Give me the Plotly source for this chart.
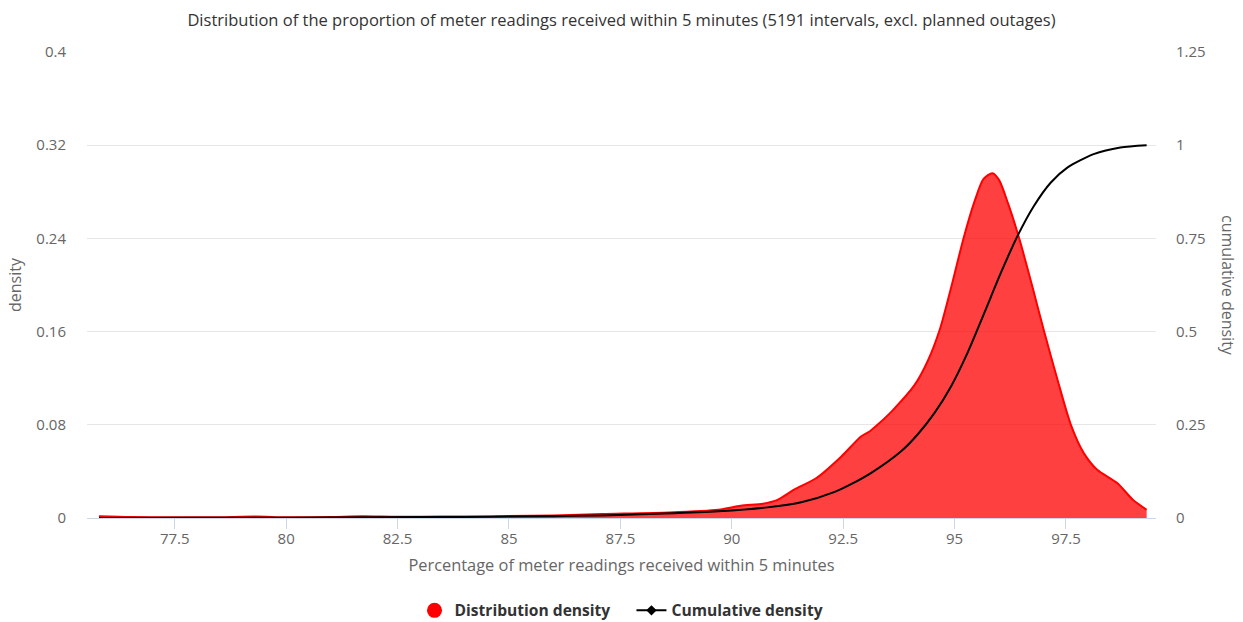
import plotly.graph_objects as go

# Distribution density (percentage -> density)
dens_x = [75.8, 76.5, 77.5, 78.5, 79.3, 80.0, 81.0, 81.7, 82.5, 83.5, 84.5, 85.0, 86.0,
          87.1, 88.6, 89.7, 90.2, 90.7, 91.0, 91.4, 91.9, 92.46, 92.9, 93.1, 93.27, 93.6,
          94.1, 94.4, 94.67, 94.95, 95.2, 95.45, 95.65, 95.85, 96.0, 96.2, 96.45, 96.75,
          97.01, 97.3, 97.61, 97.9, 98.2, 98.65, 99.0, 99.31]
dens_y = [0.0015, 0.0008, 0.0006, 0.0007, 0.0012, 0.0006, 0.0008, 0.0014, 0.0010, 0.0012,
          0.0013, 0.0018, 0.0022, 0.0034, 0.0048, 0.0071, 0.0105, 0.0123, 0.0151, 0.0243,
          0.0343, 0.0528, 0.0700, 0.0745, 0.0800, 0.0920, 0.1140, 0.1350, 0.1620, 0.2020,
          0.2400, 0.2720, 0.2910, 0.2960, 0.2900, 0.2700, 0.2400, 0.1980, 0.1600, 0.1200,
          0.0800, 0.0557, 0.0414, 0.0300, 0.0157, 0.0071]

# Cumulative density
cum_x = [75.8, 78.0, 80.0, 82.0, 84.0, 86.0, 87.1, 88.5, 89.7, 90.8, 91.56, 92.31, 92.7,
         93.13, 93.8, 94.17, 94.55, 94.92, 95.29, 95.67, 96.04, 96.41, 96.78, 97.16, 97.53,
         98.12, 98.72, 99.31]
cum_y = [0.0, 0.0005, 0.001, 0.002, 0.003, 0.005, 0.007, 0.012, 0.018, 0.0285, 0.042,
         0.070, 0.092, 0.121, 0.179, 0.224, 0.282, 0.353, 0.443, 0.551, 0.658, 0.756,
         0.837, 0.900, 0.940, 0.976, 0.994, 1.0]

x_ticks = [77.5, 80, 82.5, 85, 87.5, 90, 92.5, 95, 97.5]
x_tick_labels = ["77.5", "80", "82.5", "85", "87.5", "90", "92.5", "95", "97.5"]
y_ticks = [0, 0.08, 0.16, 0.24, 0.32, 0.4]
y_tick_labels = ["0", "0.08", "0.16", "0.24", "0.32", "0.4"]
y2_ticks = [0, 0.25, 0.5, 0.75, 1, 1.25]
y2_tick_labels = ["0", "0.25", "0.5", "0.75", "1", "1.25"]

FONT = "Open Sans"
fig = go.Figure()
fig.add_trace(go.Scatter(
    x=dens_x, y=dens_y, mode="lines", line=dict(color="#ff0000", width=2, shape="spline", smoothing=0.7),
    fill="tozeroy", fillcolor="rgba(255,0,0,0.75)", showlegend=False))
fig.add_trace(go.Scatter(
    x=cum_x, y=cum_y, mode="lines", line=dict(color="#000000", width=2, shape="spline", smoothing=0.7),
    yaxis="y2", showlegend=False))
# legend entries
fig.add_trace(go.Scatter(x=[None], y=[None], mode="markers",
                         name="Distribution density\u00a0\u00a0\u00a0\u00a0",
                         marker=dict(color="#ff0000", size=15, symbol="circle")))
fig.add_trace(go.Scatter(x=[None], y=[None], mode="lines+markers", name="Cumulative density",
                         line=dict(color="#000000", width=2),
                         marker=dict(color="#000000", size=8, symbol="diamond"), yaxis="y2"))

fig.update_layout(
    width=1243, height=622,
    margin=dict(l=87, r=87, t=52, b=104, autoexpand=False),
    paper_bgcolor="white", plot_bgcolor="white",
    font=dict(family=FONT, color="#666666", size=15),
    title=dict(text="Distribution of the proportion of meter readings received within 5 minutes (5191 intervals, excl. planned outages)",
               x=0.5, xanchor="center", y=1 - 20 / 622, yanchor="middle",
               font=dict(family=FONT, size=16.5, color="#333333")),
    xaxis=dict(range=[75.53, 99.52], tickvals=x_ticks, ticktext=x_tick_labels,
               showgrid=False, zeroline=False, showline=True, linecolor="#ccd6eb", linewidth=1,
               ticks="outside", ticklen=10, tickcolor="#ccd6eb", automargin=False,
               ticklabelstandoff=-3,
               tickfont=dict(size=15, color="#666666"),
               title=dict(text="Percentage of meter readings received within 5 minutes",
                          font=dict(size=16.4, color="#666666"), standoff=12)),
    yaxis=dict(range=[0, 0.4], tickvals=y_ticks, ticktext=y_tick_labels,
               showgrid=True, gridcolor="#e6e6e6", gridwidth=1, zeroline=False, automargin=False,
               ticks="", ticklabelstandoff=20, tickfont=dict(size=15, color="#666666")),
    yaxis2=dict(range=[0, 1.25], tickvals=y2_ticks, ticktext=y2_tick_labels,
                overlaying="y", side="right", showgrid=False, zeroline=False, automargin=False,
                ticks="", ticklabelstandoff=19, tickfont=dict(size=15, color="#666666")),
    legend=dict(orientation="h", x=0.5, xanchor="center", y=-0.199, yanchor="middle",
                font=dict(family=FONT, size=15.6, color="#333333", weight="bold"),
                itemwidth=30, tracegroupgap=0),
    annotations=[
        dict(text="density", xref="paper", yref="paper", x=-72 / 1069, y=0.5, textangle=-90,
             showarrow=False, xanchor="center", yanchor="middle", font=dict(size=16, color="#666666")),
        dict(text="cumulative density", xref="paper", yref="paper", x=1 + 72 / 1069, y=0.5, textangle=90,
             showarrow=False, xanchor="center", yanchor="middle", font=dict(size=16, color="#666666")),
    ],
)
fig.write_html("out.html", config={"displayModeBar": False},
               post_script="document.body.style.margin='0';document.body.style.overflow='hidden';")
